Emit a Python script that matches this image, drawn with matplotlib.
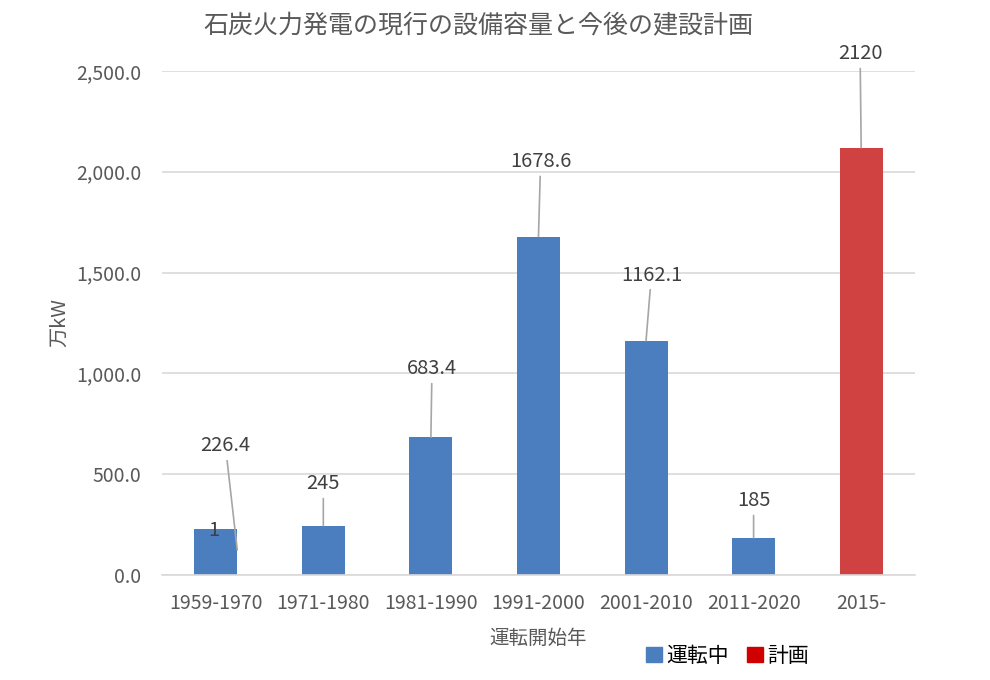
import matplotlib
matplotlib.use("Agg")
import matplotlib.pyplot as plt
from matplotlib.patches import Patch

plt.rcParams['font.family'] = ['Noto Sans CJK JP', 'DejaVu Sans']

periods = ['1959-1970', '1971-1980', '1981-1990', '1991-2000', '2001-2010', '2011-2020', '2015-']
operating = [226.4, 245, 683.4, 1678.6, 1162.1, 185, 0]
planned = [1, 0, 0, 0, 0, 0, 2120]

# label positions (category offset, value) for the leader-line labels
op_label_pos = [(0.09, 640), (0.0, 452), (0.01, 1022), (0.02, 2050), (0.05, 1488), (0.0, 368)]
op_line_end = [(0.2, 124), (0.0, 245), (0.0, 683.4), (0.0, 1678.6), (0.0, 1162.1), (0.0, 185)]

blue = '#4a7ebf'
red = '#d04142'
grid_c = '#d9d9d9'
txt = '#404040'
tick_c = '#595959'

fig = plt.figure(figsize=(9.9, 6.8), dpi=100)
ax = fig.add_axes([0.1636, 0.1544, 0.7606, 0.7412])

x = list(range(len(periods)))
ax.bar(x, operating, width=0.4, color=blue, zorder=2)
ax.bar(x, planned, width=0.4, bottom=operating, color=red, zorder=2)
# the tiny planned slice on the first bar looks almost blue
ax.bar([0], [planned[0]], width=0.4, bottom=[operating[0]], color='#6f98cc', zorder=3)

for i in range(6):
    tx, ty = op_label_pos[i]
    ex, ey = op_line_end[i]
    lab = f'{operating[i]:g}'
    ax.annotate(lab, xy=(i + ex, ey), xytext=(i + tx, ty),
                ha='center', va='center', fontsize=14.5, color=txt,
                arrowprops=dict(arrowstyle='-', color='#a6a6a6', lw=1.2,
                                shrinkA=1, shrinkB=0),
                annotation_clip=False, zorder=4)

ax.annotate(f'{planned[6]:g}', xy=(6, planned[6]), xytext=(5.99, 2585),
            ha='center', va='center', fontsize=14.5, color=txt,
            arrowprops=dict(arrowstyle='-', color='#a6a6a6', lw=1.2,
                            shrinkA=1, shrinkB=0),
            annotation_clip=False, zorder=4)
ax.text(-0.02, 223, f'{planned[0]:g}', ha='center', va='center', fontsize=14.5,
        color=txt, zorder=5)

ax.set_xlim(-0.5, 6.5)
ax.set_ylim(0, 2500)
ax.set_yticks([0, 500, 1000, 1500, 2000, 2500])
ax.set_yticklabels([f'{v:,.1f}' for v in [0, 500, 1000, 1500, 2000, 2500]])
ax.set_xticks(x)
ax.set_xticklabels(periods)
ax.tick_params(axis='both', length=0, labelsize=14, colors=tick_c)
ax.tick_params(axis='y', pad=15)
ax.tick_params(axis='x', pad=13)
ax.yaxis.grid(True, color=grid_c, lw=1.2, zorder=0)
for s in ['top', 'right', 'left']:
    ax.spines[s].set_visible(False)
ax.spines['bottom'].set_color(grid_c)
ax.spines['bottom'].set_linewidth(1.2)

ax.set_ylabel('万kW', fontsize=14.5, color=tick_c, labelpad=4)
ax.set_xlabel('運転開始年', fontsize=14, color=tick_c, labelpad=10)

fig.text(0.483, 0.962, '石炭火力発電の現行の設備容量と今後の建設計画', ha='center', va='center',
         fontsize=18, color=tick_c)

handles = [Patch(color=blue, label='運転中'), Patch(color='#d00000', label='計画')]
fig.legend(handles=handles, loc='center', bbox_to_anchor=(0.735, 0.036), ncol=2,
           frameon=False, fontsize=15, handlelength=0.75, handleheight=0.75,
           handletextpad=0.2, columnspacing=0.9, labelcolor='#000000')

fig.savefig('out.png', dpi=100)
